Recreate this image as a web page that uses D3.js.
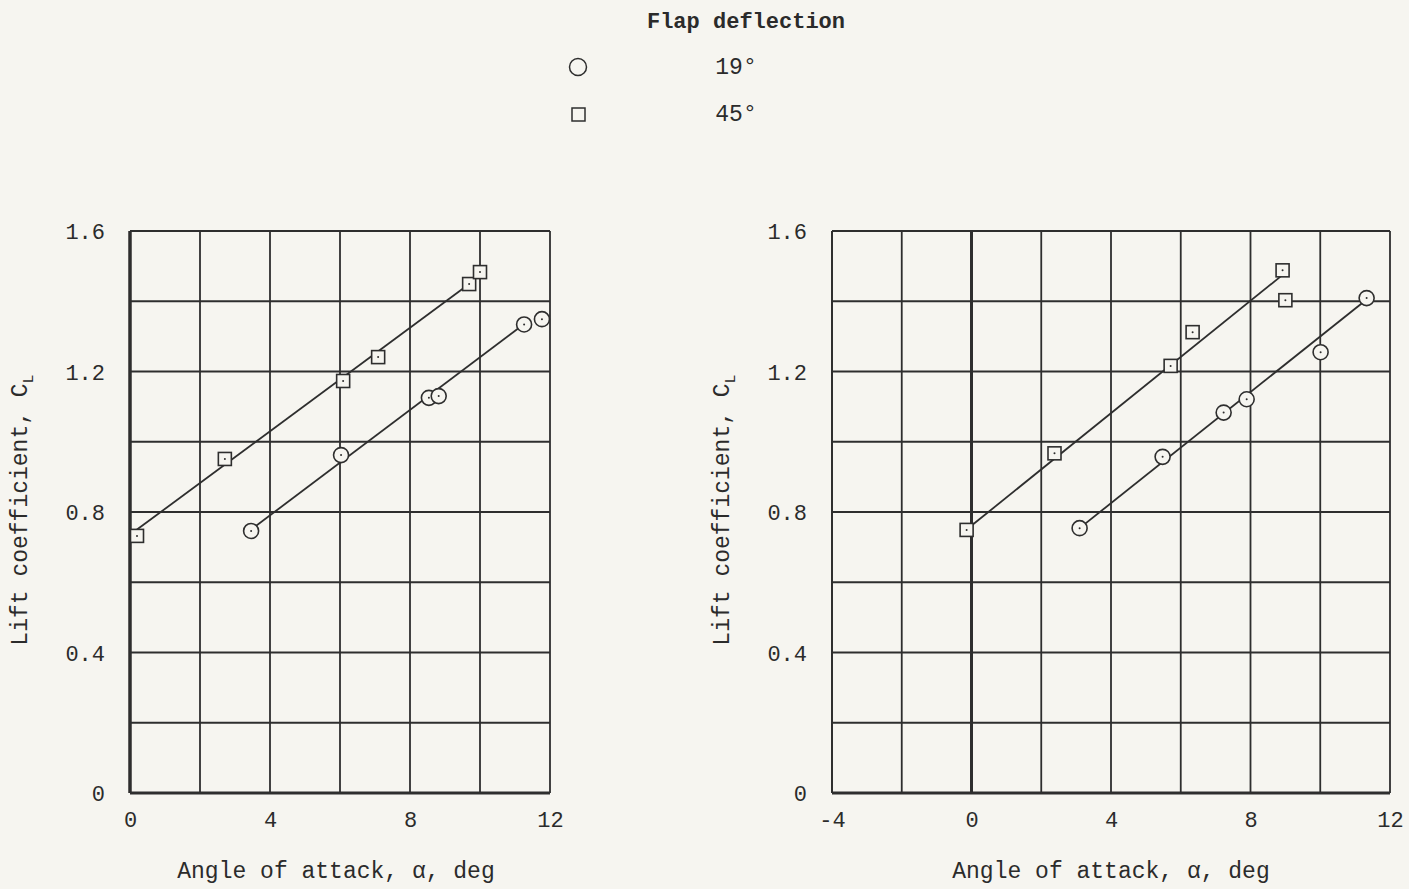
<!DOCTYPE html>
<html>
<head>
<meta charset="utf-8">
<script src="https://cdn.jsdelivr.net/npm/d3@7"></script>
<style>
  body { margin: 0; background: #f6f5f0; }
  svg { display: block; }
  text { font-family: "Liberation Mono", "DejaVu Sans Mono", monospace; fill: #2b2b2b; }
</style>
</head>
<body>
<svg id="chart" width="1409" height="889"></svg>
<script>
// Data
const legendLabels = ["19\u00b0", "45\u00b0"];

// Left panel
const leftAlpha19 = [3.46, 6.03, 8.54, 8.82, 11.26, 11.77];
const leftCL19    = [0.746, 0.962, 1.125, 1.13, 1.334, 1.349];
const leftAlpha45 = [0.2, 2.71, 6.09, 7.09, 9.69, 10.0];
const leftCL45    = [0.732, 0.951, 1.173, 1.241, 1.449, 1.483];
const leftFair19  = [[3.46, 0.75], [11.26, 1.335]];
const leftFair45  = [[0.2, 0.75], [9.7, 1.45]];

// Right panel
const rightAlpha19 = [3.10, 5.48, 7.23, 7.89, 10.01, 11.33];
const rightCL19    = [0.754, 0.957, 1.083, 1.121, 1.255, 1.409];
const rightAlpha45 = [-0.14, 2.38, 5.71, 6.34, 8.92, 9.0];
const rightCL45    = [0.749, 0.967, 1.216, 1.312, 1.488, 1.403];
const rightFair19  = [[3.10, 0.754], [11.33, 1.405]];
const rightFair45  = [[-0.14, 0.75], [8.92, 1.475]];

const yTicks = [0, 0.4, 0.8, 1.2, 1.6];
const leftXTicks = [0, 4, 8, 12];
const rightXTicks = [-4, 0, 4, 8, 12];

const ink = "#2e2e2e";
const svg = d3.select("#chart");

function zip(xs, ys) { return xs.map((x, i) => ({ a: x, cl: ys[i] })); }

function drawPanel(opt) {
  const x = d3.scaleLinear().domain(opt.xDomain).range(opt.xRange);
  const y = d3.scaleLinear().domain([0, 1.6]).range([793, 231]);
  const g = svg.append("g");

  // grid every 2 deg and 0.2 CL
  const xGrid = d3.range(opt.xDomain[0], opt.xDomain[1] + 0.01, 2);
  const yGrid = d3.range(0, 1.61, 0.2);
  g.selectAll(".vg").data(xGrid).enter().append("line")
    .attr("x1", d => x(d)).attr("x2", d => x(d))
    .attr("y1", y(0)).attr("y2", y(1.6))
    .attr("stroke", ink)
    .attr("stroke-width", d => (d === 0 ? 3 : 1.8));
  g.selectAll(".hg").data(yGrid).enter().append("line")
    .attr("x1", x(opt.xDomain[0])).attr("x2", x(opt.xDomain[1]))
    .attr("y1", d => y(d)).attr("y2", d => y(d))
    .attr("stroke", ink)
    .attr("stroke-width", d => (d === 0 ? 3 : 1.8));
  // left border
  g.append("line")
    .attr("x1", x(opt.xDomain[0])).attr("x2", x(opt.xDomain[0]))
    .attr("y1", y(0)).attr("y2", y(1.6))
    .attr("stroke", ink).attr("stroke-width", opt.xDomain[0] === 0 ? 3 : 1.8);

  // tick labels
  const xAxis = g.append("g").attr("transform", `translate(0,${y(0) + 15})`)
    .call(d3.axisBottom(x).tickValues(opt.xTicks).tickSize(0).tickFormat(d => String(d)));
  const yAxis = g.append("g").attr("transform", `translate(${x(opt.xDomain[0]) - 22},0)`)
    .call(d3.axisLeft(y).tickValues(yTicks).tickSize(0).tickFormat(d => (d === 0 ? "0" : d3.format(".1f")(d))));
  [xAxis, yAxis].forEach(a => {
    a.select(".domain").remove();
    a.selectAll("text").attr("font-family", "Liberation Mono, monospace")
      .attr("font-size", 22).attr("fill", ink);
  });
  yAxis.selectAll("text").attr("dy", "0.35em");

  // axis titles
  g.append("text")
    .attr("x", (opt.xRange[0] + opt.xRange[1]) / 2 + opt.xTitleShift)
    .attr("y", 878)
    .attr("text-anchor", "middle")
    .attr("font-size", 23)
    .text("Angle of attack, \u03b1, deg");
  const yt = g.append("text")
    .attr("transform", `translate(${opt.yTitleX},510) rotate(-90)`)
    .attr("text-anchor", "middle")
    .attr("font-size", 23);
  yt.append("tspan").text("Lift coefficient, C");
  yt.append("tspan").attr("font-size", 15).attr("dy", 6).text("L");

  // fairing lines
  const line = d3.line().x(d => x(d[0])).y(d => y(d[1]));
  [opt.fair19, opt.fair45].forEach(f => {
    g.append("path").attr("d", line(f))
      .attr("fill", "none").attr("stroke", ink).attr("stroke-width", 1.8);
  });

  // circles (19 deg)
  const c = g.selectAll(".c19").data(zip(opt.a19, opt.cl19)).enter().append("g")
    .attr("transform", d => `translate(${x(d.a)},${y(d.cl)})`);
  c.append("circle").attr("r", 7.5).attr("fill", "#f6f5f0").attr("stroke", ink).attr("stroke-width", 1.6);
  c.append("circle").attr("r", 1).attr("fill", ink);

  // squares (45 deg)
  const s = g.selectAll(".s45").data(zip(opt.a45, opt.cl45)).enter().append("g")
    .attr("transform", d => `translate(${x(d.a)},${y(d.cl)})`);
  s.append("rect").attr("x", -6.5).attr("y", -6.5).attr("width", 13).attr("height", 13)
    .attr("fill", "#f6f5f0").attr("stroke", ink).attr("stroke-width", 1.6);
  s.append("circle").attr("r", 1).attr("fill", ink);
}

drawPanel({
  xDomain: [0, 12], xRange: [130, 550], xTicks: leftXTicks,
  a19: leftAlpha19, cl19: leftCL19, a45: leftAlpha45, cl45: leftCL45,
  fair19: leftFair19, fair45: leftFair45, xTitleShift: -4, yTitleX: 27
});
drawPanel({
  xDomain: [-4, 12], xRange: [832, 1390], xTicks: rightXTicks,
  a19: rightAlpha19, cl19: rightCL19, a45: rightAlpha45, cl45: rightCL45,
  fair19: rightFair19, fair45: rightFair45, xTitleShift: 0, yTitleX: 729
});

// Legend
const leg = svg.append("g");
leg.append("text").attr("x", 746).attr("y", 28).attr("text-anchor", "middle")
  .attr("font-size", 22).attr("font-weight", "bold").text("Flap deflection");
leg.append("circle").attr("cx", 578).attr("cy", 67).attr("r", 8.5)
  .attr("fill", "none").attr("stroke", ink).attr("stroke-width", 1.5);
leg.append("rect").attr("x", 572).attr("y", 108).attr("width", 13).attr("height", 13)
  .attr("fill", "none").attr("stroke", ink).attr("stroke-width", 1.5);
leg.selectAll(".lt").data(legendLabels).enter().append("text")
  .attr("x", 736).attr("y", (d, i) => 74 + i * 47)
  .attr("text-anchor", "middle").attr("font-size", 23)
  .text(d => d);
</script>
</body>
</html>
